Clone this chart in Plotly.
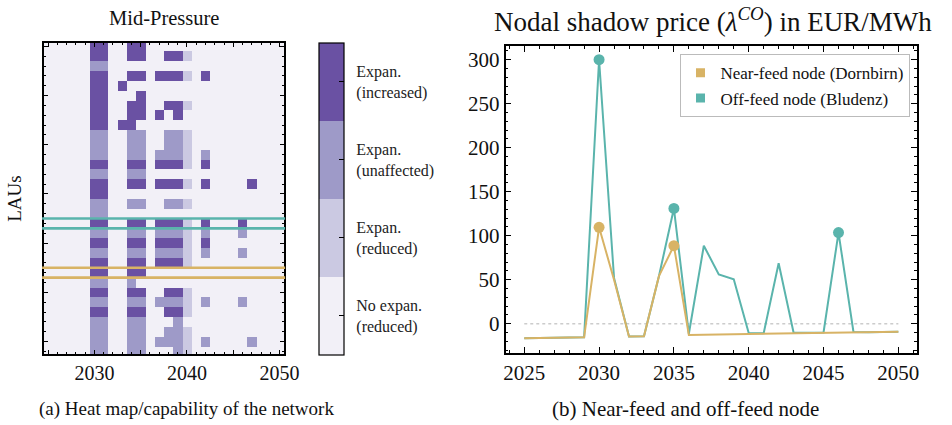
import plotly.graph_objects as go

# ---------------- data ----------------
years = list(range(2025, 2051))
row_ids = list(range(32))

# heat map levels per LAU row (0 = no expan., 1 = reduced, 2 = unaffected, 3 = increased)
# only the years carrying a non-zero level are listed; expanded over `years` below
heat_rows = [
    {2030: 3, 2031: 3, 2034: 3, 2035: 3},
    {2030: 3, 2031: 3, 2034: 3, 2035: 3, 2038: 3, 2039: 3, 2040: 1},
    {2030: 2, 2031: 2},
    {2030: 3, 2031: 3, 2034: 3, 2035: 3, 2037: 3, 2038: 3, 2039: 3, 2040: 1, 2042: 3},
    {2030: 3, 2031: 3, 2033: 3},
    {2030: 3, 2031: 3, 2035: 3},
    {2030: 3, 2031: 3, 2034: 3, 2035: 3, 2038: 3, 2039: 3, 2040: 1},
    {2030: 3, 2031: 3, 2034: 3, 2035: 3, 2037: 3, 2039: 3},
    {2030: 3, 2031: 3, 2033: 3, 2034: 3},
    {2030: 2, 2031: 2, 2034: 2, 2035: 2, 2038: 2, 2039: 2, 2040: 1},
    {2030: 2, 2031: 2, 2034: 2, 2035: 2, 2038: 2, 2039: 2, 2040: 1},
    {2030: 2, 2031: 2, 2034: 2, 2035: 2, 2037: 2, 2038: 2, 2039: 2, 2040: 1, 2042: 2},
    {2030: 3, 2031: 3, 2034: 3, 2035: 3, 2037: 3, 2038: 3, 2039: 3, 2040: 1, 2042: 3},
    {2030: 2, 2031: 2, 2034: 2, 2035: 2},
    {2030: 3, 2031: 3, 2034: 3, 2035: 3, 2037: 3, 2038: 3, 2039: 3, 2040: 1, 2042: 3, 2047: 3},
    {2030: 3, 2031: 3},
    {2030: 2, 2031: 2, 2034: 2, 2035: 2, 2038: 2, 2039: 2, 2040: 1},
    {2030: 2, 2031: 2},
    {2030: 3, 2031: 3, 2034: 3, 2035: 3, 2037: 3, 2038: 3, 2039: 3, 2040: 1, 2042: 3, 2046: 3},
    {2030: 2, 2031: 2, 2034: 2, 2035: 2, 2037: 2, 2038: 2, 2039: 2, 2040: 1, 2042: 2, 2046: 2},
    {2030: 3, 2031: 3, 2034: 3, 2035: 3, 2037: 3, 2038: 3, 2039: 3, 2040: 1, 2042: 3},
    {2030: 2, 2031: 2, 2034: 2, 2035: 2, 2037: 2, 2038: 2, 2039: 2, 2040: 1, 2042: 2, 2046: 2},
    {2030: 3, 2031: 3, 2034: 3, 2035: 3, 2037: 3, 2038: 3, 2039: 3, 2040: 1},
    {2030: 3, 2031: 3, 2034: 3, 2035: 3},
    {2030: 2, 2031: 2, 2034: 2},
    {2030: 3, 2031: 3, 2034: 3, 2035: 3, 2038: 3, 2039: 3, 2040: 1},
    {2030: 2, 2031: 2, 2034: 2, 2035: 2, 2037: 2, 2038: 2, 2039: 2, 2040: 1, 2042: 2, 2046: 2},
    {2030: 3, 2031: 3, 2034: 3, 2035: 3, 2038: 3, 2039: 3, 2040: 1},
    {2030: 2, 2031: 2, 2034: 2, 2035: 2, 2039: 2},
    {2030: 2, 2031: 2, 2034: 2, 2035: 2, 2038: 2, 2039: 2, 2040: 1},
    {2030: 2, 2031: 2, 2034: 2, 2035: 2, 2037: 2, 2038: 2, 2039: 2, 2040: 1, 2042: 2, 2047: 2},
    {2030: 2, 2031: 2, 2034: 2, 2035: 2, 2039: 2, 2040: 1},
]
level_labels = ["No expan.<br>(reduced)", "Expan.<br>(reduced)",
                "Expan.<br>(unaffected)", "Expan.<br>(increased)"]
level_colors = ["#f2f0f7", "#cbc9e2", "#9e9ac8", "#6a51a3"]

offfeed_row = 18   # Bludenz
nearfeed_row = 23  # Dornbirn

near_feed = [-16.6, -16.3, -16.0, -15.8, -15.5, 109.5, 50, -14.5, -14.3, 54, 88.6,
             -12.8, -12.5, -12.2, -12.0, -11.7, -11.5, -11.2, -11.0, -10.8, -10.5,
             -10.3, -10.0, -9.7, -9.4, -9.1]
off_feed = [-16.6, -16.3, -16.0, -15.8, -15.5, 300, 52, -14.5, -14.3, 54, 131,
            -11.5, 88.6, 56, 50.5, -10.5, -10.8, 68.6, -10.3, -10.2, -10.0,
            103.5, -9.5, -9.7, -9.4, -9.1]
near_peaks = [2030, 2035]
off_peaks = [2030, 2035, 2046]

GOLD = "#d8b365"
TEAL = "#5ab4ac"
FONT = "Liberation Serif"

z = [[r.get(y, 0) for y in years] for r in heat_rows]

W, H = 952, 425
def px(x):
    return x / W
def py(y):
    return 1 - y / H

fig = go.Figure()

cs = []
for i, c in enumerate(level_colors):
    cs.append([i / 4, c])
    cs.append([(i + 1) / 4, c])

pad = "&nbsp;&nbsp;"
cb_text = [pad + t.replace("<br>", "<br>" + pad) for t in level_labels]

fig.add_trace(go.Heatmap(
    x=years, y=row_ids, z=z, zmin=-0.5, zmax=3.5, colorscale=cs,
    xaxis="x", yaxis="y", hoverinfo="skip",
    colorbar=dict(
        x=px(322.7), xanchor="left", xref="paper",
        y=py(198.9), yanchor="middle", len=(355 - 42.7) / H, lenmode="fraction",
        thickness=24.6, thicknessmode="pixels",
        outlinewidth=1.2, outlinecolor="black",
        tickvals=[0, 1, 2, 3], ticktext=cb_text,
        ticks="inside", ticklen=5, tickcolor="black", tickwidth=1,
        tickfont=dict(family=FONT, size=16, color="#222"),
        xpad=0, ypad=0,
    ),
))

# right chart lines
fig.add_trace(go.Scatter(x=years, y=off_feed, mode="lines", line=dict(color=TEAL, width=2),
                         xaxis="x2", yaxis="y2", showlegend=False, hoverinfo="skip"))
fig.add_trace(go.Scatter(x=years, y=near_feed, mode="lines", line=dict(color=GOLD, width=2),
                         xaxis="x2", yaxis="y2", showlegend=False, hoverinfo="skip"))
fig.add_trace(go.Scatter(x=off_peaks, y=[off_feed[years.index(y)] for y in off_peaks],
                         mode="markers", marker=dict(color=TEAL, size=11),
                         xaxis="x2", yaxis="y2", showlegend=False, hoverinfo="skip"))
fig.add_trace(go.Scatter(x=near_peaks, y=[near_feed[years.index(y)] for y in near_peaks],
                         mode="markers", marker=dict(color=GOLD, size=11),
                         xaxis="x2", yaxis="y2", showlegend=False, hoverinfo="skip"))
# legend entries (patches)
fig.add_trace(go.Scatter(x=[None], y=[None], mode="markers", name="Near-feed node (Dornbirn)",
                         marker=dict(color=GOLD, symbol="square", size=9),
                         xaxis="x2", yaxis="y2"))
fig.add_trace(go.Scatter(x=[None], y=[None], mode="markers", name="Off-feed node (Bludenz)",
                         marker=dict(color=TEAL, symbol="square", size=9),
                         xaxis="x2", yaxis="y2"))

axis_common = dict(showline=True, linecolor="black", linewidth=1.6, mirror="allticks",
                   ticks="inside", tickcolor="black", showgrid=False, zeroline=False)

fig.update_layout(
    width=W, height=H, margin=dict(l=0, r=0, t=0, b=0),
    paper_bgcolor="white", plot_bgcolor="white",
    font=dict(family=FONT, color="#111"),
    xaxis=dict(domain=[px(42.3), px(287.3)], anchor="y", range=[2024.5, 2050.5],
               tickvals=[2025, 2030, 2035, 2040, 2045, 2050],
               ticktext=["", "2030", "", "2040", "", "2050"],
               ticklen=4.5, tickwidth=1,
               minor=dict(dtick=1, tick0=2025, ticks="inside", ticklen=2.5, tickcolor="black"),
               tickfont=dict(size=20), **axis_common),
    yaxis=dict(domain=[py(354.3), py(43)], anchor="x", range=[31.3, -0.35],
               tickvals=[0, 5, 10, 15, 20, 25, 30], showticklabels=False,
               ticklen=4.5, tickwidth=1,
               minor=dict(dtick=1, tick0=0, ticks="inside", ticklen=2.5, tickcolor="black"),
               **axis_common),
    xaxis2=dict(domain=[px(512.7), px(931.7)], anchor="y2", range=[2023.75, 2051.25],
                dtick=5, tick0=2025, ticklen=6, tickwidth=1.2,
                minor=dict(dtick=1, ticks="inside", ticklen=3, tickcolor="black"),
                tickfont=dict(size=21), **axis_common),
    yaxis2=dict(domain=[py(352.7), py(46)], anchor="x2", range=[-33, 315.6],
                dtick=50, tick0=0, ticklen=6, tickwidth=1.2,
                minor=dict(dtick=10, ticks="inside", ticklen=3, tickcolor="black"),
                tickfont=dict(size=21), **axis_common),
    legend=dict(x=px(924), xanchor="right", y=py(54.3), yanchor="top",
                bgcolor="white", bordercolor="#bbbbbb", borderwidth=1,
                font=dict(family=FONT, size=17), itemwidth=30,
                tracegroupgap=2),
    showlegend=True,
)

shapes = [
    dict(type="line", xref="x2", yref="y2", x0=years[0], x1=years[-1], y0=0, y1=0,
         line=dict(color="#cccccc", width=1.5, dash="dot"), layer="below"),
]
for r, col in ((offfeed_row, TEAL), (nearfeed_row, GOLD)):
    for edge in (r - 0.5, r + 0.5):
        shapes.append(dict(type="line", xref="x domain", yref="y", x0=-0.006, x1=1.004,
                           y0=edge, y1=edge, line=dict(color=col, width=2.6)))
fig.update_layout(shapes=shapes)

annotations = [
    dict(text="Mid-Pressure", x=px(165), y=py(18), xref="paper", yref="paper",
         showarrow=False, xanchor="center", yanchor="middle", font=dict(size=20.5)),
    dict(text="Nodal shadow price (<i>λ</i><sup><i>CO</i></sup>) in EUR/MWh",
         x=px(724), y=py(20), xref="paper", yref="paper",
         showarrow=False, xanchor="center", yanchor="middle", font=dict(size=27)),
    dict(text="LAUs", x=px(12), y=py(199), xref="paper", yref="paper", textangle=-90,
         showarrow=False, xanchor="center", yanchor="middle", font=dict(size=19)),
    dict(text="(a) Heat map/capability of the network", x=px(188), y=py(409),
         xref="paper", yref="paper", showarrow=False, xanchor="center", yanchor="middle",
         font=dict(size=19)),
    dict(text="(b) Near-feed and off-feed node", x=px(696), y=py(409),
         xref="paper", yref="paper", showarrow=False, xanchor="center", yanchor="middle",
         font=dict(size=21)),
]
fig.update_layout(annotations=annotations)

fig.write_html("out.html")
